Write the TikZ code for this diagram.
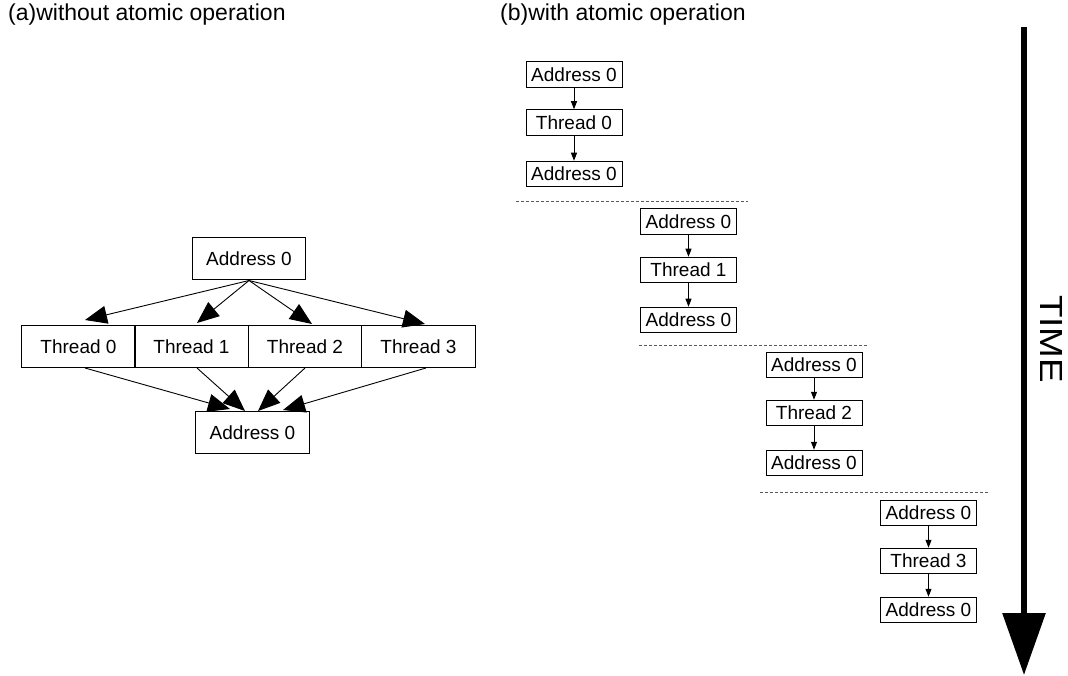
\documentclass[tikz,border=0pt]{standalone}
\usepackage{fontspec}
\setmainfont{Liberation Sans}
\usetikzlibrary{arrows.meta}
\begin{document}
\begin{tikzpicture}[x=1pt,y=-1pt,
  bigbox/.style={draw,line width=1pt,minimum width=113.5pt,minimum height=42pt,inner sep=0pt,font=\fontsize{19}{22}\selectfont},
  smallbox/.style={draw,line width=1pt,minimum width=96pt,minimum height=25.5pt,inner sep=0pt,font=\fontsize{19}{22}\selectfont},
  bigarrow/.style={line width=0.9pt,-{Triangle[length=22pt,width=18pt]}},
  smallarrow/.style={line width=0.9pt,-{Triangle[length=8pt,width=6pt]}},
  sepline/.style={line width=1pt,draw=black!65,dash pattern=on 3pt off 2pt},
  titletext/.style={anchor=base west,inner sep=0pt,font=\fontsize{23}{26}\selectfont}]
\useasboundingbox (0,0) rectangle (1068,676);

% titles
\node[titletext] (ta) at (8,21) {(a)without atomic operation};
\node[titletext] (tb) at (500,21) {(b)with atomic operation};

% left diagram
\node[bigbox] (atop) at (249,259) {Address 0};
\node[bigbox] (t0) at (78.5,346.5) {Thread 0};
\node[bigbox] (t1) at (191.5,346.5) {Thread 1};
\node[bigbox] (t2) at (305,346.5) {Thread 2};
\node[bigbox] (t3) at (418.5,346.5) {Thread 3};
\node[bigbox] (abot) at (252.5,432.5) {Address 0};

\draw[bigarrow] (atop.south) -- ([xshift=6.5pt,yshift=5pt]t0.north);
\draw[bigarrow] (atop.south) -- ([xshift=5.5pt,yshift=2pt]t1.north);
\draw[bigarrow] (atop.south) -- ([xshift=7pt,yshift=1pt]t2.north);
\draw[bigarrow] (atop.south) -- ([xshift=6.5pt,yshift=1pt]t3.north);

\draw[bigarrow] ([xshift=6.5pt]t0.south) -- ([xshift=-22.5pt,yshift=2pt]abot.north);
\draw[bigarrow] ([xshift=5.5pt]t1.south) -- ([xshift=-7.5pt]abot.north);
\draw[bigarrow] (t2.south) -- ([xshift=5.5pt]abot.north);
\draw[bigarrow] ([xshift=7.5pt]t3.south) -- ([xshift=30.5pt,yshift=1pt]abot.north);

% right diagram
\node[smallbox] (a1) at (574,74.5) {Address 0};
\node[smallbox] (h1) at (574,122.5) {Thread 0};
\node[smallbox] (b1) at (574,174) {Address 0};
\draw[smallarrow] (a1) -- (h1);
\draw[smallarrow] (h1) -- (b1);

\node[smallbox] (a2) at (688.5,221.5) {Address 0};
\node[smallbox] (h2) at (688.5,270) {Thread 1};
\node[smallbox] (b2) at (688.5,320) {Address 0};
\draw[smallarrow] (a2) -- (h2);
\draw[smallarrow] (h2) -- (b2);

\node[smallbox] (a3) at (814,365) {Address 0};
\node[smallbox] (h3) at (814,413) {Thread 2};
\node[smallbox] (b3) at (814,463) {Address 0};
\draw[smallarrow] (a3) -- (h3);
\draw[smallarrow] (h3) -- (b3);

\node[smallbox] (a4) at (928.5,513) {Address 0};
\node[smallbox] (h4) at (928.5,561) {Thread 3};
\node[smallbox] (b4) at (928.5,610) {Address 0};
\draw[smallarrow] (a4) -- (h4);
\draw[smallarrow] (h4) -- (b4);

% separators
\coordinate (s1a) at (516,202); \coordinate (s1b) at (748,202);
\coordinate (s2a) at (639,345.5); \coordinate (s2b) at (867,345.5);
\coordinate (s3a) at (760,492); \coordinate (s3b) at (990,492);
\draw[sepline] (s1a) -- (s1b);
\draw[sepline] (s2a) -- (s2b);
\draw[sepline] (s3a) -- (s3b);

% time arrow
\coordinate (ts) at (1024,27);
\coordinate (te) at (1024,675);
\draw[line width=6pt,-{Triangle[length=62pt,width=42pt]}] (ts) -- (te);
\node[rotate=-90,inner sep=0pt,font=\fontsize{32}{32}\selectfont] (time) at (1051.5,339) {\scalebox{1.15}[1]{TIME}};
\end{tikzpicture}
\end{document}
